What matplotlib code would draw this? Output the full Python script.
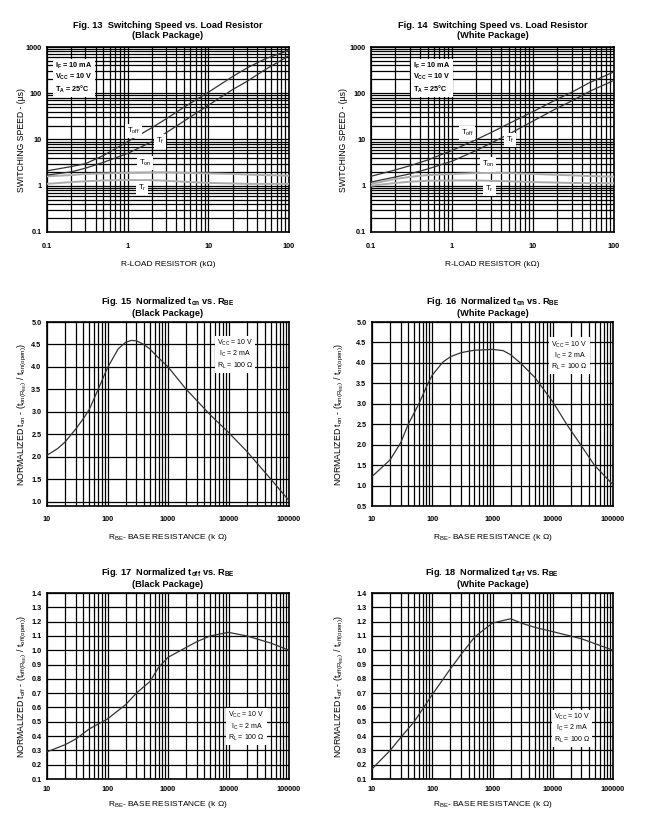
import numpy as np
import matplotlib
matplotlib.use('agg')
import matplotlib.pyplot as plt
from matplotlib.ticker import LogLocator, FuncFormatter, MultipleLocator, NullFormatter

plt.rcParams['font.family'] = ['Liberation Sans', 'DejaVu Sans']
plt.rcParams['mathtext.fontset'] = 'custom'
plt.rcParams['mathtext.rm'] = 'Liberation Sans'
plt.rcParams['mathtext.it'] = 'Liberation Sans'
plt.rcParams['mathtext.bf'] = 'Liberation Sans:bold'

# Fig 13 / 14 : switching speed (us) vs load resistor (kOhm)
rl = [0.1, 0.2, 0.3, 0.5, 1, 2, 3, 5, 10, 20, 30, 50, 100]
blk_toff = [2.1, 2.6, 3.0, 4.5, 9, 18, 28, 50, 105, 230, 350, 550, 850]
blk_tf = [1.7, 2.0, 2.4, 3.2, 5, 9, 14, 25, 55, 120, 180, 320, 650]
blk_ton = [1.6, 1.7, 1.8, 1.85, 1.9, 1.93, 1.95, 1.9, 1.85, 1.8, 1.75, 1.7, 1.65]
blk_tr = [1.1, 1.2, 1.25, 1.3, 1.33, 1.32, 1.28, 1.22, 1.15, 1.12, 1.1, 1.1, 1.1]

wht_toff = [1.6, 2.2, 2.7, 3.6, 5.8, 10, 14, 22, 40, 75, 105, 170, 290]
wht_tf = [1.2, 1.55, 1.8, 2.3, 3.4, 5.8, 8.3, 13, 25, 48, 68, 110, 190]
wht_ton = [1.1, 1.4, 1.55, 1.7, 1.8, 1.88, 1.9, 1.88, 1.8, 1.72, 1.68, 1.62, 1.57]
wht_tr = [1.0, 1.15, 1.22, 1.28, 1.3, 1.3, 1.28, 1.25, 1.2, 1.17, 1.15, 1.14, 1.13]

# Fig 15 / 16 : normalized ton vs RBE
rbe15 = [10, 15, 20, 30, 40, 50, 70, 100, 150, 200, 250, 300, 400, 500, 700,
         1000, 2000, 5000, 10000, 20000, 50000, 100000]
ton15 = [2.03, 2.18, 2.33, 2.62, 2.85, 3.05, 3.5, 3.98, 4.4, 4.55, 4.59, 4.58,
         4.5, 4.4, 4.2, 4.0, 3.5, 2.93, 2.54, 2.12, 1.5, 1.02]

rbe16 = [10, 20, 30, 40, 60, 85, 100, 150, 200, 300, 500, 1000, 1500, 2000,
         3000, 5000, 10000, 17000, 29000, 49000, 100000]
ton16 = [1.22, 1.63, 2.05, 2.5, 3.0, 3.5, 3.7, 4.02, 4.15, 4.25, 4.31, 4.33,
         4.3, 4.2, 3.98, 3.65, 3.05, 2.5, 2.0, 1.5, 1.02]

# Fig 17 / 18 : normalized toff vs RBE
rbe17 = [10, 20, 30, 50, 100, 200, 300, 500, 700, 1000, 2000, 3000, 5000,
         10000, 20000, 50000, 100000]
toff17 = [0.29, 0.34, 0.38, 0.45, 0.52, 0.62, 0.70, 0.78, 0.88, 0.95, 1.02,
          1.06, 1.10, 1.125, 1.10, 1.05, 1.0]

rbe18 = [10, 20, 30, 50, 100, 200, 300, 500, 700, 1000, 2000, 3000, 5000,
         10000, 30000, 100000]
toff18 = [0.17, 0.30, 0.39, 0.50, 0.69, 0.87, 0.97, 1.09, 1.14, 1.19, 1.22,
          1.19, 1.16, 1.13, 1.08, 1.0]

W, H = 650, 830
COND = 'V$_\\mathregular{CC}$ = 10 V\nI$_\\mathregular{C}$ = 2 mA\nR$_\\mathregular{L}$ = 100 Ω'


def make_ax(fig, l, t, r, b):
    return fig.add_axes([l / W, 1 - b / H, (r - l) / W, (b - t) / H])


def style(ax, logy):
    ax.set_xscale('log')
    if logy:
        ax.set_yscale('log')
        ax.yaxis.set_minor_locator(LogLocator(base=10, subs=np.arange(2, 10), numticks=20))
        ax.yaxis.set_minor_formatter(NullFormatter())
    ax.xaxis.set_minor_locator(LogLocator(base=10, subs=np.arange(2, 10), numticks=20))
    ax.xaxis.set_minor_formatter(NullFormatter())
    fmt = FuncFormatter(lambda v, _: '%g' % v)
    ax.xaxis.set_major_formatter(fmt)
    if logy:
        ax.yaxis.set_major_formatter(fmt)
    ax.grid(True, which='both', color='black', lw=0.9)
    ax.tick_params(which='both', length=0, labelsize=5.2)
    ax.tick_params(axis='y', pad=4)
    for s in ax.spines.values():
        s.set_linewidth(1.2)
    ax.set_axisbelow(True)


def bold_ticks(ax):
    for lab in ax.get_xticklabels() + ax.get_yticklabels():
        lab.set_fontweight('bold')


fig = plt.figure(figsize=(6.5, 8.3), dpi=100)

# ---- top row: switching speed
sw = [
    ((47, 47, 289, 232), 'Fig. 13  Switching Speed vs. Load Resistor\n(Black Package)',
     blk_toff, blk_tf, blk_ton, blk_tr, 0.033, -0.085,
     [((1.18, 15.5), r'T$_{\mathregular{off}}$'), ((2.5, 9.1), r'T$_{\mathregular{f}}$'),
      ((1.64, 3.1), r'T$_{\mathregular{on}}$'), ((1.5, 0.9), r'T$_{\mathregular{r}}$')]),
    ((371, 47, 614, 232), 'Fig. 14  Switching Speed vs. Load Resistor\n(White Package)',
     wht_toff, wht_tf, wht_ton, wht_tr, 0.173, -0.093,
     [((1.53, 13.8), r'T$_{\mathregular{off}}$'), ((5.2, 9.6), r'T$_{\mathregular{f}}$'),
      ((2.8, 2.9), r'T$_{\mathregular{on}}$'), ((2.9, 0.85), r'T$_{\mathregular{r}}$')]),
]
for box, title, toff, tf, ton, tr, tx, ylx, labels in sw:
    ax = make_ax(fig, *box)
    style(ax, True)
    ax.set_xlim(0.1, 100)
    ax.set_ylim(0.1, 1000)
    ax.tick_params(axis='x', pad=8)
    bold_ticks(ax)
    ax.plot(rl, ton, color='#ababab', lw=1.4, zorder=3)
    ax.plot(rl, tr, color='#ababab', lw=1.4, zorder=3)
    ax.plot(rl, toff, color='#333333', lw=0.9, zorder=4)
    ax.plot(rl, tf, color='#333333', lw=0.9, zorder=4)
    for (x, y), s in labels:
        ax.text(x, y, s, fontsize=5.5, ha='center', va='center', zorder=5,
                bbox=dict(facecolor='white', edgecolor='none', pad=1.5))
    ax.text(tx, 0.925, 'I$_\\mathregular{F}$ = 10 mA\nV$_\\mathregular{CC}$ = 10 V\nT$_\\mathregular{A}$ = 25°C',
            transform=ax.transAxes, fontsize=5.2, ha='left', va='top', linespacing=1.15,
            fontweight='bold', zorder=5,
            bbox=dict(facecolor='white', edgecolor='none', pad=1.5))
    ax.set_title(title, fontsize=6.7, fontweight='bold', pad=6.5, linespacing=1.15)
    ax.set_xlabel('R-LOAD RESISTOR (kΩ)', fontsize=6.0, labelpad=8)
    ax.set_ylabel('SWITCHING SPEED - (µs)', fontsize=6.2)
    ax.yaxis.set_label_coords(ylx, 0.5)

# ---- middle row: normalized ton
on_cfg = [
    ((47, 322, 289, 506), 'Fig. 15  Normalized t$_{\\mathregular{on}}$ vs. R$_{\\mathregular{BE}}$\n(Black Package)',
     rbe15, ton15, (0.9, 5.0), 0.777, 0.913, -0.076),
    ((372, 322, 613, 506), 'Fig. 16  Normalized t$_{\\mathregular{on}}$ vs. R$_{\\mathregular{BE}}$\n(White Package)',
     rbe16, ton16, (0.5, 5.0), 0.82, 0.905, -0.106),
]
for box, title, xs, ys, ylim, bx, by, ylx in on_cfg:
    ax = make_ax(fig, *box)
    style(ax, False)
    ax.set_xlim(10, 100000)
    ax.set_ylim(*ylim)
    ax.tick_params(axis='x', pad=7)
    ax.yaxis.set_major_locator(MultipleLocator(0.5))
    ax.yaxis.set_major_formatter(FuncFormatter(lambda v, _: '%.1f' % v))
    bold_ticks(ax)
    ax.plot(xs, ys, color='#333333', lw=0.9, zorder=4)
    ax.text(bx, by, COND, transform=ax.transAxes, fontsize=5.0, ha='center', va='top',
            multialignment='center', linespacing=1.15, zorder=5,
            bbox=dict(facecolor='white', edgecolor='none', pad=1.5))
    ax.set_title(title, fontsize=6.7, fontweight='bold', pad=4, linespacing=1.15)
    ax.set_xlabel('R$_{\\mathregular{BE}}$- BASE RESISTANCE (k Ω)', fontsize=6.0, labelpad=7)
    ax.set_ylabel('NORMALIZED t$_{\\mathregular{on}}$ - (t$_{\\mathregular{on(R_{BE})}}$ / t$_{\\mathregular{on(open)}}$)',
                  fontsize=6.3)
    ax.yaxis.set_label_coords(ylx, 0.5)

# ---- bottom row: normalized toff
off_cfg = [
    ((47, 593, 289, 779), 'Fig. 17  Normalized t$_{\\mathregular{off}}$ vs. R$_{\\mathregular{BE}}$\n(Black Package)',
     rbe17, toff17, 0.825, 0.37, -0.076),
    ((372, 593, 613, 779), 'Fig. 18  Normalized t$_{\\mathregular{off}}$ vs. R$_{\\mathregular{BE}}$\n(White Package)',
     rbe18, toff18, 0.83, 0.36, -0.106),
]
for box, title, xs, ys, bx, by, ylx in off_cfg:
    ax = make_ax(fig, *box)
    style(ax, False)
    ax.set_xlim(10, 100000)
    ax.set_ylim(0.1, 1.4)
    ax.tick_params(axis='x', pad=5)
    ax.yaxis.set_major_locator(MultipleLocator(0.1))
    ax.yaxis.set_major_formatter(FuncFormatter(lambda v, _: '%.1f' % v))
    bold_ticks(ax)
    ax.plot(xs, ys, color='#333333', lw=0.9, zorder=4)
    ax.text(bx, by, COND, transform=ax.transAxes, fontsize=5.0, ha='center', va='top',
            multialignment='center', linespacing=1.15, zorder=5,
            bbox=dict(facecolor='white', edgecolor='none', pad=1.5))
    ax.set_title(title, fontsize=6.7, fontweight='bold', pad=4, linespacing=1.15)
    ax.set_xlabel('R$_{\\mathregular{BE}}$- BASE RESISTANCE (k Ω)', fontsize=6.0, labelpad=4)
    ax.set_ylabel('NORMALIZED t$_{\\mathregular{off}}$ - (t$_{\\mathregular{off(R_{BE})}}$ / t$_{\\mathregular{off(open)}}$)',
                  fontsize=6.3)
    ax.yaxis.set_label_coords(ylx, 0.5)

fig.savefig('out.png', dpi=100)
